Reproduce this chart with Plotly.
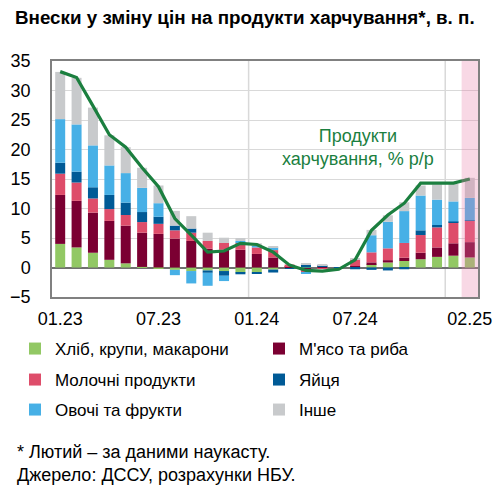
import plotly.graph_objects as go

months = ["01.23", "02.23", "03.23", "04.23", "05.23", "06.23", "07.23", "08.23",
          "09.23", "10.23", "11.23", "12.23", "01.24", "02.24", "03.24", "04.24",
          "05.24", "06.24", "07.24", "08.24", "09.24", "10.24", "11.24", "12.24",
          "01.25", "02.25"]
tick_labels = ["01.23", "07.23", "01.24", "07.24", "02.25"]

# внески, в. п.
bread = [4.0, 3.4, 2.5, 1.3, 0.7, 0.1, -0.2, -0.4, -0.6, -0.5, -0.6, -0.85, -0.8,
         -0.35, -0.1, -0.2, -0.1, 0.0, 0.1, 0.57, 0.85, 1.1, 1.4, 1.8, 2.0, 1.7]
meat = [8.3, 7.9, 6.8, 6.6, 6.4, 5.8, 5.7, 4.9, 4.5, 3.2, 3.0, 3.0, 2.3,
        1.7, 0.2, -0.3, 0.1, 0.0, 0.15, 0.3, 0.4, 0.56, 1.1, 1.6, 2.1, 2.6]
dairy = [3.6, 3.1, 2.4, 2.0, 1.8, 1.8, 1.7, 1.4, 1.4, 1.3, 1.15, 1.2, 1.1,
         1.25, 0.3, -0.3, -0.1, 0.05, 1.1, 1.7, 2.0, 2.5, 3.0, 3.4, 3.6, 3.6]
eggs = [1.85, 1.85, 1.9, 2.4, 2.1, 1.7, 1.2, 0.8, 0.7, -0.4, -0.8, -0.3, -0.3,
        -0.5, -0.1, 0.5, 0.3, -0.05, -0.3, -0.4, -0.5, -0.3, 0.8, 0.4, 0.1, 0.1]
vegfruit = [7.4, 8.0, 7.1, 5.0, 5.0, 4.1, 2.3, -0.9, -2.1, -2.2, -0.9, 0.3, 0.4,
            0.45, 0.0, -0.3, 0.0, 0.0, 0.0, 2.9, 4.5, 5.4, 5.9, 4.3, 3.4, 3.8]
other = [8.0, 7.9, 6.4, 5.1, 4.4, 3.4, 3.0, 2.5, 2.1, 1.4, 0.9, 0.5, 0.3,
         0.1, 0.0, 0.2, 0.1, 0.0, 0.1, 0.9, 1.1, 1.5, 1.7, 2.6, 3.0, 3.4]
# продукти харчування, % р/р
food_yoy = [33.2, 32.2, 27.4, 22.5, 20.4, 16.9, 13.7, 8.3, 5.5, 2.6, 2.8, 4.1, 3.9,
            2.6, 0.4, -0.5, -0.6, -0.3, 1.3, 6.3, 8.9, 10.9, 14.3, 14.3, 14.3, 15.0]

names = ["Хліб, крупи, макарони", "М'ясо та риба", "Молочні продукти",
         "Яйця", "Овочі та фрукти", "Інше"]
values = [bread, meat, dairy, eggs, vegfruit, other]
colors = ["#92c864", "#7b0032", "#de4d6a", "#005a96", "#47b0e6", "#c8cacc"]

font = "Liberation Sans, Arial, sans-serif"

# сторінка має відступ 8 px, тому фігура трохи менша за вікно
W, H = 495, 485 - 8

# область графіка на екрані: 52..478 px по x, 61..297 px по y
def px_x(p):
    return (p - 52) / 426

def px_y(p):
    return (297 - p) / 236

fig = go.Figure()
legend_ids = ["legend", "legend2", "legend3", "legend4", "legend5", "legend6"]
for name, vals, color, lg in zip(names, values, colors, legend_ids):
    fig.add_trace(go.Bar(x=months, y=vals, name=name, marker_color=color,
                         marker_line_width=0, legend=lg))

fig.add_trace(go.Scatter(x=months, y=food_yoy, mode="lines", showlegend=False,
                         line=dict(color="#1b7f3f", width=3.2)))

# межі років
for xb in [11.5, 23.5]:
    fig.add_shape(type="line", x0=xb, x1=xb, y0=0, y1=1, xref="x", yref="paper",
                  line=dict(color="#d9d9d9", width=1.5), layer="below")
# наукаст
fig.add_shape(type="rect", x0=24.5, x1=25.5, y0=0, y1=1, xref="x", yref="paper",
              fillcolor="#e87da8", opacity=0.3, line_width=0, layer="above")

fig.add_annotation(x=18.2, y=20.3, text="Продукти<br>харчування, % р/р",
                   showarrow=False, font=dict(size=18, color="#1b7f3f", family=font))

notes = [("* Лютий – за даними наукасту.", 452), ("Джерело: ДССУ, розрахунки НБУ.", 475)]
for txt, yy in notes:
    fig.add_annotation(x=px_x(15), y=px_y(yy), xref="paper", yref="paper",
                       text=txt, showarrow=False, xanchor="left", yanchor="middle",
                       align="left", font=dict(size=18, color="#000", family=font))

legend_style = dict(orientation="h", xanchor="left", yanchor="middle", itemwidth=30,
                    font=dict(size=17, family=font, color="#000"),
                    bgcolor="rgba(0,0,0,0)")
legend_pos = [(15, 349), (259, 349), (15, 380), (259, 380), (15, 410), (259, 410)]
legends = {lg: dict(x=px_x(lx), y=px_y(ly), **legend_style)
           for lg, (lx, ly) in zip(legend_ids, legend_pos)}

fig.update_layout(
    width=W, height=H,
    margin=dict(l=44, r=25, t=53, b=188, autoexpand=False),
    barmode="relative",
    bargap=0.39,
    plot_bgcolor="white",
    paper_bgcolor="white",
    font=dict(family=font, size=16, color="#000"),
    title=dict(text="<b>Внески у зміну цін на продукти харчування*, в. п.</b>",
               x=7 / W, xanchor="left", xref="container",
               y=1 - 9 / H, yanchor="middle", yref="container", pad=dict(t=0),
               font=dict(size=18.8, family=font, color="#000")),
    showlegend=True,
    **legends,
)

fig.update_xaxes(type="category", tickmode="array", tickvals=tick_labels,
                 ticktext=tick_labels, tickangle=0, showgrid=False,
                 showline=True, linecolor="#808080", linewidth=1.5, mirror=True,
                 ticks="", tickfont=dict(size=18), ticklabelstandoff=5,
                 range=[-0.5, 25.5], automargin=False)
fig.update_yaxes(range=[-5, 35], dtick=5, showgrid=True, gridcolor="#d9d9d9",
                 gridwidth=1.2, zeroline=True, zerolinecolor="#707070", zerolinewidth=1.5,
                 showline=True, linecolor="#808080", linewidth=1.5, mirror=True,
                 ticks="", tickfont=dict(size=18), ticklabelstandoff=16,
                 automargin=False)

fig.write_html("out.html")
